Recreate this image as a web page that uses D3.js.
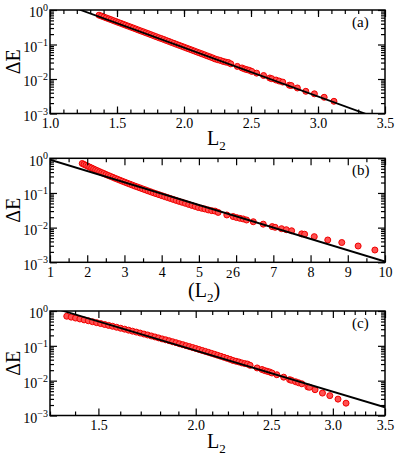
<!DOCTYPE html>
<html>
<head>
<meta charset="utf-8">
<script src="https://d3js.org/d3.v7.min.js"></script>
<style>
    body { margin: 0; background: #fff; }
    svg text { font-family: "Liberation Serif", "Times New Roman", Times, serif; fill: #000; }
</style>
</head>
<body>
<div id="chart"></div>
<script>
// L2 values of the data points (same set in all three panels)
var L2 = [1.366, 1.384, 1.402, 1.420, 1.438, 1.456, 1.474, 1.492, 1.510, 1.528,
    1.546, 1.564, 1.583, 1.602, 1.621, 1.640, 1.659, 1.678, 1.697, 1.716,
    1.735, 1.754, 1.773, 1.792, 1.811, 1.830, 1.849, 1.868, 1.887, 1.906,
    1.925, 1.944, 1.963, 1.982, 2.001, 2.020, 2.039, 2.058, 2.077, 2.096,
    2.115, 2.134, 2.154, 2.174, 2.194, 2.214, 2.233, 2.253, 2.272, 2.292,
    2.312, 2.331, 2.349, 2.398, 2.433, 2.452, 2.470, 2.488, 2.506, 2.542,
    2.594, 2.640, 2.655, 2.687, 2.711, 2.737, 2.786, 2.800, 2.846, 2.909,
    2.973, 3.046, 3.119];

// energy gap Delta E for each point
var dE = [0.708, 0.667, 0.627, 0.590, 0.556, 0.524, 0.492, 0.463, 0.436, 0.410,
    0.386, 0.364, 0.341, 0.320, 0.301, 0.282, 0.264, 0.248, 0.233, 0.218,
    0.205, 0.192, 0.180, 0.169, 0.158, 0.149, 0.140, 0.131, 0.123, 0.115,
    0.108, 0.101, 0.0951, 0.0893, 0.0837, 0.0785, 0.0737, 0.0692, 0.0649, 0.0608,
    0.0571, 0.0536, 0.0501, 0.0468, 0.0438, 0.0409, 0.0380, 0.0361, 0.0345, 0.0324,
    0.0309, 0.0300, 0.0275, 0.0232, 0.0209, 0.0195, 0.0186, 0.0178, 0.0166, 0.0148,
    0.0126, 0.0107, 0.0102, 0.00933, 0.00871, 0.00813, 0.00661, 0.00646, 0.00550, 0.00440,
    0.00372, 0.00295, 0.00226];

// fit lines (end points)
var fitAx = [1.0, 3.5];
var fitAy = [2.11, 0.00061];
var fitBx = [1, 10];
var fitBy = [0.91, 0.00105];
var fitCx = [1.3, 3.5];
var fitCy = [1.31, 0.00172];

// tick labels
var ticksA = [1.0, 1.5, 2.0, 2.5, 3.0, 3.5];
var ticksB = [1, 2, 3, 4, 5, 6, 7, 8, 9, 10];
var ticksC = [1.5, 2.0, 2.5, 3.0, 3.5];
var yTicks = [1, 0.1, 0.01, 0.001];
var yExp = ["0", "\u22121", "\u22122", "\u22123"];
var panelLabels = ["(a)", "(b)", "(c)"];

function init() {
    var w = 395;
    var h = 456;
    var left = 50, right = 385;
    var majorLen = 7, minorLen = 4;
    var serif = "Liberation Serif, Times New Roman, Times, serif";

    var svg = d3.select("#chart")
        .append("svg")
        .attr("width", w)
        .attr("height", h);

    // minor ticks on the log y axis: 2..9 in each decade
    var yMinor = [];
    [0.001, 0.01, 0.1].forEach(function (dec) {
        d3.range(2, 10).forEach(function (k) { yMinor.push(dec * k); });
    });

    var panels = [
        { top: 10, bottom: 113.5, scale: d3.scaleLinear().domain([1.0, 3.5]),
          ticks: ticksA, minor: d3.range(1.1, 3.45, 0.1), fmt: d3.format(".1f"),
          xv: function (l) { return l; }, fx: fitAx, fy: fitAy, titleY: 145 },
        { top: 158.3, bottom: 262.3, scale: d3.scaleLinear().domain([1, 10]),
          ticks: ticksB, minor: d3.range(1.5, 10, 1), fmt: d3.format("d"),
          xv: function (l) { return l * l; }, fx: fitBx, fy: fitBy, titleY: 297 },
        { top: 311, bottom: 415.5, scale: d3.scaleLog().domain([1.3, 3.5]),
          ticks: ticksC, minor: [1.3, 1.4, 1.6, 1.7, 1.8, 1.9, 2.1, 2.2, 2.3, 2.4, 2.6, 2.7, 2.8, 2.9, 3.1, 3.2, 3.3, 3.4],
          fmt: d3.format(".1f"), xv: function (l) { return l; }, fx: fitCx, fy: fitCy, titleY: 448 }
    ];

    panels.forEach(function (p, i) {
        var xScale = p.scale.range([left, right]);
        var yScale = d3.scaleLog().domain([0.001, 1]).range([p.bottom, p.top]);
        var g = svg.append("g");

        // clip to plot area
        g.append("clipPath")
            .attr("id", "clip" + i)
            .append("rect")
            .attr("x", left).attr("y", p.top)
            .attr("width", right - left).attr("height", p.bottom - p.top);

        var plot = g.append("g").attr("clip-path", "url(#clip" + i + ")");

        // data points
        plot.selectAll("circle")
            .data(L2)
            .enter()
            .append("circle")
            .attr("cx", function (d) { return xScale(p.xv(d)); })
            .attr("cy", function (d, j) { return yScale(dE[j]); })
            .attr("r", 3)
            .attr("fill", "#ff5050")
            .attr("stroke", "#f00000")
            .attr("stroke-width", 1);

        // fit line
        var line = d3.line()
            .x(function (d) { return xScale(d); })
            .y(function (d, j) { return yScale(p.fy[j]); });
        plot.append("path")
            .datum(p.fx)
            .attr("d", line)
            .attr("fill", "none")
            .attr("stroke", "#000")
            .attr("stroke-width", 1.8);

        // axes: major + minor, mirrored on all four sides, ticks pointing inward
        function addAxis(axis, tx, ty) {
            var a = g.append("g")
                .attr("transform", "translate(" + tx + "," + ty + ")")
                .call(axis)
                .attr("font-family", serif);
            a.select(".domain").remove();
            a.selectAll(".tick line").attr("stroke", "#000").attr("stroke-width", 1.2);
            return a;
        }

        var xAxis = d3.axisBottom(xScale).tickValues(p.ticks).tickFormat(p.fmt)
            .tickSizeInner(-majorLen).tickSizeOuter(0).tickPadding(5);
        var xb = addAxis(xAxis, 0, p.bottom);
        xb.selectAll("text").style("font-size", "14px");

        addAxis(d3.axisBottom(xScale).tickValues(p.minor).tickFormat("").tickSizeInner(-minorLen).tickSizeOuter(0), 0, p.bottom);
        addAxis(d3.axisTop(xScale).tickValues(p.ticks).tickFormat("").tickSizeInner(-majorLen).tickSizeOuter(0), 0, p.top);
        addAxis(d3.axisTop(xScale).tickValues(p.minor).tickFormat("").tickSizeInner(-minorLen).tickSizeOuter(0), 0, p.top);

        var yAxis = d3.axisLeft(yScale).tickValues(yTicks).tickFormat("")
            .tickSizeInner(-majorLen).tickSizeOuter(0).tickPadding(2);
        var yl = addAxis(yAxis, left, 0);
        // 10^n labels
        yl.selectAll(".tick text")
            .attr("dy", "0.48em")
            .style("font-size", "14px")
            .each(function (d, j) {
                var t = d3.select(this);
                t.append("tspan").text("10");
                t.append("tspan").attr("dy", "-0.62em").style("font-size", "10px").text(yExp[j]);
            });

        addAxis(d3.axisLeft(yScale).tickValues(yMinor).tickFormat("").tickSizeInner(-minorLen).tickSizeOuter(0), left, 0);
        addAxis(d3.axisRight(yScale).tickValues(yTicks).tickFormat("").tickSizeInner(-majorLen).tickSizeOuter(0), right, 0);
        addAxis(d3.axisRight(yScale).tickValues(yMinor).tickFormat("").tickSizeInner(-minorLen).tickSizeOuter(0), right, 0);

        // frame
        g.append("rect")
            .attr("x", left).attr("y", p.top)
            .attr("width", right - left).attr("height", p.bottom - p.top)
            .attr("fill", "none")
            .attr("stroke", "#000")
            .attr("stroke-width", 1.5);

        // panel label
        g.append("text")
            .attr("x", 352)
            .attr("y", p.top + 17)
            .style("font-size", "15px")
            .text(panelLabels[i]);

        // y title
        g.append("text")
            .attr("transform", "translate(19.5," + ((p.top + p.bottom) / 2) + ") rotate(-90)")
            .attr("text-anchor", "middle")
            .style("font-size", "20px")
            .text("\u0394E");

        // x title
        var xt = g.append("text")
            .attr("y", p.titleY)
            .style("font-size", "20px");
        if (i === 1) {
            xt.attr("x", 188);
            xt.append("tspan").text("(L");
            xt.append("tspan").attr("dy", 5).style("font-size", "13px").text("2");
            xt.append("tspan").attr("dy", -5).text(")");
            xt.append("tspan").attr("dy", -19).attr("dx", 6).style("font-size", "13px").text("2");
        } else {
            xt.attr("x", 207);
            xt.append("tspan").text("L");
            xt.append("tspan").attr("dy", 5).style("font-size", "13px").text("2");
        }
    });
}

window.onload = init;
</script>
</body>
</html>
